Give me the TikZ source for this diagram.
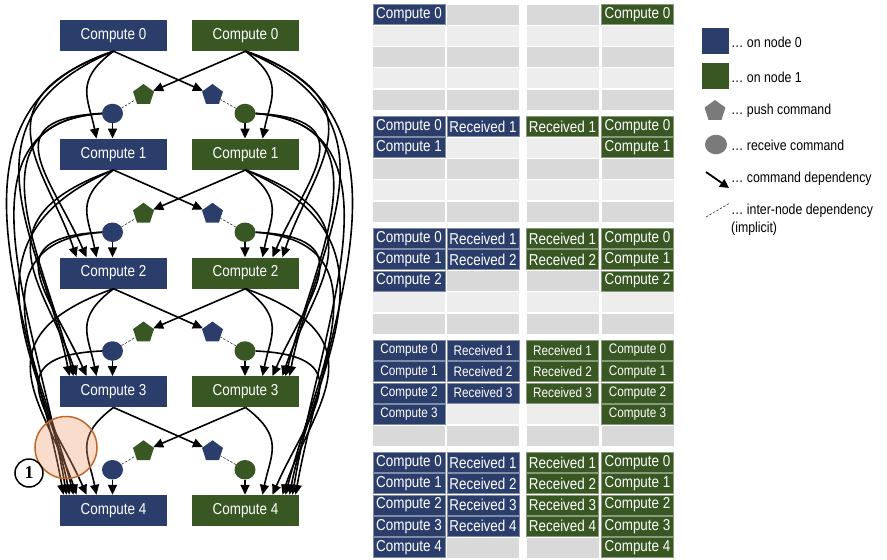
\documentclass[tikz,border=0pt]{standalone}
\usepackage{fontspec}
\setmainfont{Liberation Sans}[FakeStretch=0.85]
\newfontfamily\numserif{Liberation Serif}
\usetikzlibrary{arrows.meta,shapes.geometric}
\definecolor{nblue}{HTML}{2B3E6B}
\definecolor{ngreen}{HTML}{385723}
\definecolor{gdark}{HTML}{D9D9D9}
\definecolor{glight}{HTML}{EDEDED}
\definecolor{hlfill}{HTML}{EE9B6A}
\definecolor{hlline}{HTML}{C0692A}
\definecolor{leggray}{HTML}{7A7A7A}
\newcommand\fsbig{\fontsize{15.8}{18}\selectfont}
\newcommand\fssmall{\fontsize{13.8}{16}\selectfont}
\newcommand\fsleg{\fontsize{14.5}{18}\selectfont}
\begin{document}
\begin{tikzpicture}[x=1pt,y=1pt,
  cbox/.style={minimum width=107pt,minimum height=31pt,inner sep=0pt,text=white,font=\fsbig},
  pent/.style={regular polygon,regular polygon sides=5,minimum size=22pt,inner sep=0pt},
  recv/.style={ellipse,minimum width=21pt,minimum height=19.5pt,inner sep=0pt},
  arr/.style={-{Triangle[length=10pt,width=9pt]},line width=1.6pt,black},
  dep/.style={dash pattern=on 2.5pt off 1.5pt,line width=0.6pt,black!80},
  cell/.style={minimum width=72pt,minimum height=20pt,inner sep=0pt},
  cellb/.style={cell,fill=nblue,draw=nblue!60!white,line width=0.6pt,text=white},
  cellg/.style={cell,fill=ngreen,draw=ngreen!60!white,line width=0.6pt,text=white},
  legtxt/.style={anchor=west,inner sep=0pt,font=\fsleg,align=left}
]
\useasboundingbox (0,0) rectangle (887,-560);

% ---------- compute boxes ----------
\foreach \k in {0,...,4}{
  \pgfmathsetmacro\yy{-(35.5+118.75*\k)}
  \node[cbox,fill=nblue]  (A\k) at (113.5,\yy) {Compute \k};
  \node[cbox,fill=ngreen] (B\k) at (245.5,\yy) {Compute \k};
}
% ---------- push / receive ----------
\foreach \i in {1,...,4}{
  \pgfmathsetmacro\yp{-(35.5+118.75*(\i-1)+59.5)}
  \pgfmathsetmacro\yr{-(35.5+118.75*(\i-1)+78)}
  \node[pent,fill=ngreen] (PB\i) at (143.5,\yp) {};
  \node[pent,fill=nblue]  (PA\i) at (212.5,\yp) {};
  \node[recv,fill=nblue]  (RA\i) at (112.5,\yr) {};
  \node[recv,fill=ngreen] (RB\i) at (245,\yr) {};
}
% ---------- straight edges ----------
\foreach \i in {1,...,4}{
  \pgfmathtruncatemacro\jj{\i-1}
  \draw[arr] (A\jj.south) -- (PA\i);
  \draw[arr] (B\jj.south) -- (PB\i);
  \draw[dep] (RA\i) -- (PB\i);
  \draw[dep] (RB\i) -- (PA\i);
  \draw[arr] (RA\i.south) -- (RA\i.south |- A\i.north);
  \draw[arr] (RB\i.south) -- (RB\i.south |- B\i.north);
}
% ---------- curved dependencies: compute -> compute ----------
\foreach \k in {1,...,4}{
  \pgfmathtruncatemacro\km{\k-1}
  \foreach \j in {0,...,\km}{
    \pgfmathtruncatemacro\dd{\k-\j}
    \pgfmathsetmacro\ax{{40,140,165,185}[\dd-1]}
    \pgfmathsetmacro\ay{{30,50,70,60}[\dd-1]}
    \pgfmathsetmacro\cx{{8,30,25,30}[\dd-1]}
    \pgfmathsetmacro\cy{{40,90,130,170}[\dd-1]}
    \pgfmathsetmacro\dx{{17,37,44,50}[\dd-1]}
    \draw[arr] (A\j.south) .. controls +(-\ax,-\ay) and +(-\cx,\cy) .. ([xshift={-\dx}]A\k.north);
    \draw[arr] (B\j.south) .. controls +(\ax,-\ay) and +(\cx,\cy) .. ([xshift={\dx}]B\k.north);
  }
}
% ---------- curved dependencies: receive -> compute ----------
\foreach \k in {2,...,4}{
  \pgfmathtruncatemacro\km{\k-1}
  \foreach \i in {1,...,\km}{
    \pgfmathtruncatemacro\dd{\k-\i}
    \pgfmathsetmacro\ax{{110,135,155}[\dd-1]}
    \pgfmathsetmacro\ay{{5,10,10}[\dd-1]}
    \pgfmathsetmacro\cx{{35,30,28}[\dd-1]}
    \pgfmathsetmacro\cy{{80,120,170}[\dd-1]}
    \pgfmathsetmacro\dx{{27,40,47}[\dd-1]}
    \draw[arr] (RA\i.west) .. controls +(-\ax,-\ay) and +(-\cx,\cy) .. ([xshift={-\dx}]A\k.north);
    \draw[arr] (RB\i.east) .. controls +(\ax,-\ay) and +(\cx,\cy) .. ([xshift={\dx}]B\k.north);
  }
}
% ---------- highlight ----------
\node[circle,minimum size=62pt,inner sep=0pt,fill=hlfill,fill opacity=0.35,draw=hlline,draw opacity=1,line width=1.5pt] (hl) at (66,-447.5) {};
\node[circle,draw,line width=1.5pt,minimum size=28pt,inner sep=0pt,font=\numserif\bfseries\fontsize{18}{18}\selectfont] (one) at (29,-473) {1};

% ---------- buffer table ----------
\foreach \g in {0,...,4}{
  \foreach \r in {0,...,4}{
    \pgfmathsetmacro\cy{-(14.5+112*\g+21.25*\r)}
    \pgfmathtruncatemacro\rr{\r+1}
    \ifodd\r \def\gc{glight}\else\def\gc{gdark}\fi
    \ifnum\g=3 \def\cf{\fssmall}\else\def\cf{\fsbig}\fi
    \ifnum\r>\g
      \node[cell,fill=\gc] (ta\g\r) at (409,\cy) {};
      \node[cell,fill=\gc] (td\g\r) at (637.5,\cy) {};
    \else
      \node[cellb,font=\cf] (ta\g\r) at (409,\cy) {Compute \r};
      \node[cellg,font=\cf] (td\g\r) at (637.5,\cy) {Compute \r};
    \fi
    \ifnum\r<\g
      \node[cellb,font=\cf] (tb\g\r) at (483,\cy) {Received \rr};
      \node[cellg,font=\cf] (tc\g\r) at (562.5,\cy) {Received \rr};
    \else
      \node[cell,fill=\gc] (tb\g\r) at (483,\cy) {};
      \node[cell,fill=\gc] (tc\g\r) at (562.5,\cy) {};
    \fi
  }
}

% ---------- legend ----------
\node[minimum width=27pt,minimum height=26pt,inner sep=0pt,fill=nblue] (lb) at (715.5,-41) {};
\node[minimum width=27pt,minimum height=26pt,inner sep=0pt,fill=ngreen] (lg) at (715.5,-76) {};
\node[pent,fill=leggray] (lp) at (715,-111) {};
\node[recv,fill=leggray,minimum width=22pt,minimum height=19.5pt] (lr) at (716,-144.5) {};
\coordinate (la1) at (706,-172);
\coordinate (la2) at (729,-188);
\draw[-{Triangle[length=9pt,width=9pt]},line width=1.8pt] (la1) -- (la2);
\coordinate (ld1) at (706,-217);
\coordinate (ld2) at (730,-203);
\draw[dep] (ld1) -- (ld2);
\node[legtxt] (t1) at (731,-42) {… on node 0};
\node[legtxt] (t2) at (731,-77) {… on node 1};
\node[legtxt] (t3) at (731,-110.5) {… push command};
\node[legtxt] (t4) at (731,-145) {… receive command};
\node[legtxt] (t5) at (731,-178.5) {… command dependency};
\node[legtxt,anchor=north west] (t6) at (731,-204) {… inter-node dependency\\(implicit)};
\end{tikzpicture}
\end{document}
